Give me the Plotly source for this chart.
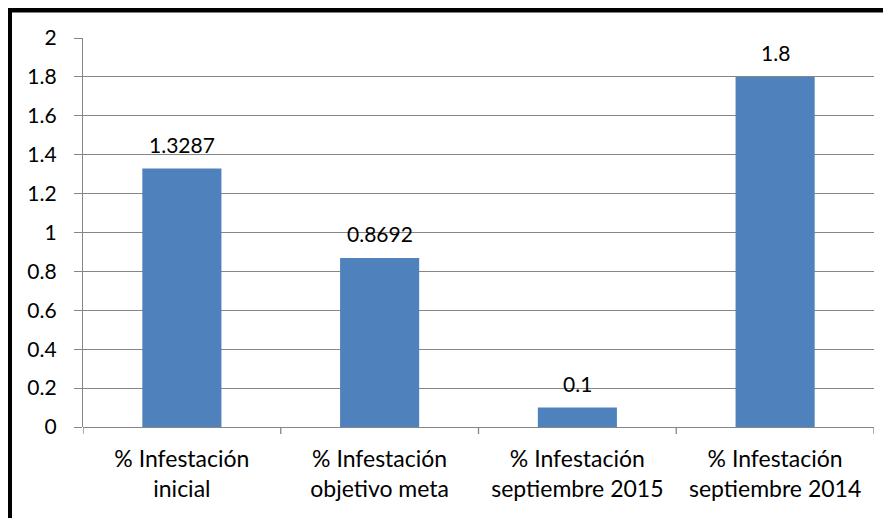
import plotly.graph_objects as go

categories = ["% Infestación<br>inicial", "% Infestación<br>objetivo meta",
              "% Infestación<br>septiembre 2015", "% Infestación<br>septiembre 2014"]
values = [1.3287, 0.8692, 0.1, 1.8]
labels = ["1.3287", "0.8692", "0.1", "1.8"]
y_ticks = [0, 0.2, 0.4, 0.6, 0.8, 1, 1.2, 1.4, 1.6, 1.8, 2]
y_tick_text = ["0", "0.2", "0.4", "0.6", "0.8", "1", "1.2", "1.4", "1.6", "1.8", "2"]

# page has an 8px body margin; figure coords = page coords - 8
OFF = 8
W, H = 891, 518
ML, MT = 83 - OFF, 38 - OFF
pw, ph = 791, 389
MR, MB = W - ML - pw, H - MT - ph

FONT = "Lato"
GRID = "#868686"

x_idx = list(range(len(categories)))

fig = go.Figure(go.Bar(
    x=x_idx, y=values,
    marker=dict(color="#4F81BD", line=dict(width=0)),
    width=0.4,
))

for xi, v, t in zip(x_idx, values, labels):
    fig.add_annotation(x=xi, y=v, text=t, showarrow=False, yanchor="bottom",
                       yshift=10, font=dict(family=FONT, size=21, color="black"))

def px_x(p):
    return (p - OFF - ML) / pw

def px_y(p):
    return 1 - (p - OFF - MT) / ph

shapes = [
    dict(type="line", xref="paper", yref="paper", x0=px_x(9.5), x1=px_x(W + 20),
         y0=px_y(10), y1=px_y(10), line=dict(color="black", width=5)),
    dict(type="line", xref="paper", yref="paper", x0=px_x(9.5), x1=px_x(9.5),
         y0=px_y(7.5), y1=px_y(H + 20), line=dict(color="black", width=5)),
]
for i in range(len(categories) + 1):
    shapes.append(dict(type="line", xref="x", yref="paper", x0=i - 0.5, x1=i - 0.5,
                       y0=0, y1=px_y(434), line=dict(color=GRID, width=1.3)))

fig.update_layout(
    width=W, height=H, margin=dict(l=ML, r=MR, t=MT, b=MB),
    paper_bgcolor="white", plot_bgcolor="white", showlegend=False,
    font=dict(family=FONT, size=21, color="black"),
    shapes=shapes,
    xaxis=dict(range=[-0.5, 3.5], tickmode="array", tickvals=x_idx,
               ticktext=categories, showgrid=False, zeroline=False,
               showline=False, ticks="", tickfont=dict(family=FONT, size=23),
               ticklabelstandoff=16, automargin=False),
    yaxis=dict(range=[0, 2], tickmode="array", tickvals=y_ticks, ticktext=y_tick_text,
               showgrid=True, gridcolor=GRID, gridwidth=1.3, zeroline=True,
               zerolinecolor=GRID, zerolinewidth=1.3,
               showline=True, linecolor=GRID, linewidth=1.3,
               ticks="outside", ticklen=8, tickcolor=GRID, tickwidth=1.3,
               tickfont=dict(family=FONT, size=21), ticklabelstandoff=13,
               automargin=False),
)

fig.write_html("out.html")
